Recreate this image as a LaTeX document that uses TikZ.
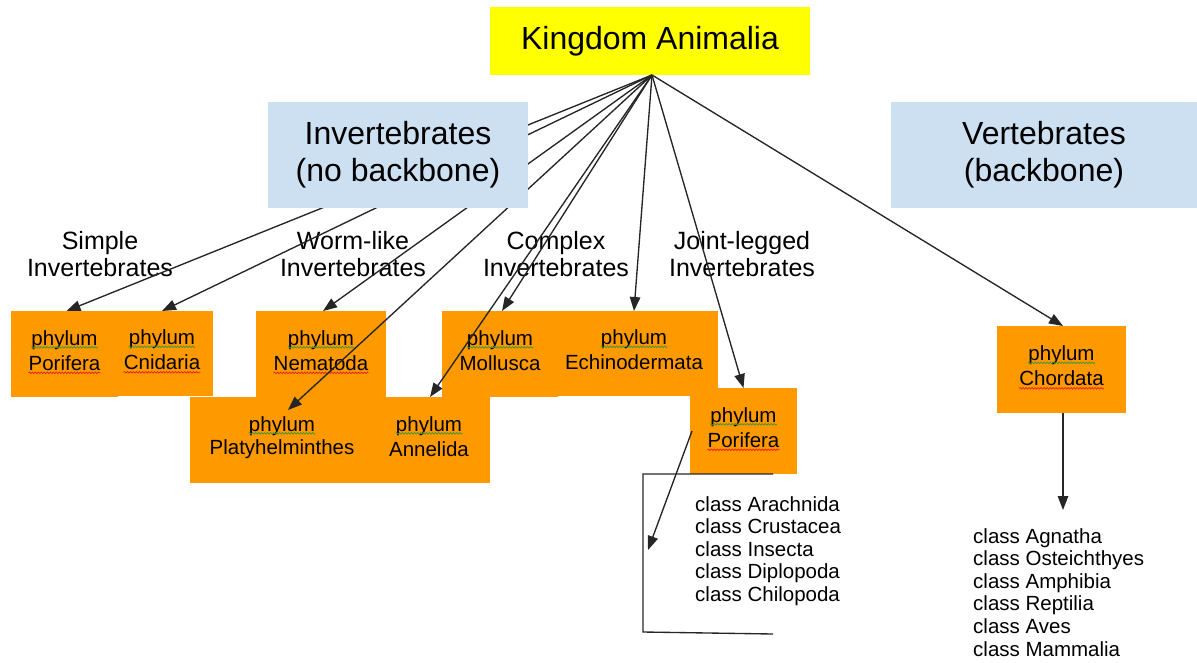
\documentclass[tikz,border=0pt]{standalone}
\usepackage{fontspec}
\setmainfont{Liberation Sans}
\usetikzlibrary{arrows.meta,decorations.pathmorphing}
\definecolor{orng}{RGB}{255,153,0}
\definecolor{yel}{RGB}{255,255,0}
\definecolor{lblue}{RGB}{205,224,242}
\definecolor{sgreen}{RGB}{60,150,60}
\definecolor{sred}{RGB}{235,30,30}
\newcommand\phybox[7]{%
  \node[obox, minimum width=#4pt, minimum height=#5pt] (#1) at (#2,#3) {};
  \node[ptext] (#1a) at ([yshift=14pt]#1.center) {phylum};
  \node[ptext] (#1b) at ([yshift=-9pt]#1.center) {#6};
  \draw[gwave] ([yshift=-2pt]#1a.base west) -- ([yshift=-2pt]#1a.base east);
  \draw[#7] ([yshift=-2.5pt]#1b.base west) -- ([yshift=-2.5pt]#1b.base east);
}
\begin{document}
\begin{tikzpicture}[x=1pt,y=-1pt,
  obox/.style={fill=orng, draw=none, inner sep=0pt, outer sep=0pt},
  bbox/.style={fill=lblue, inner sep=0pt, outer sep=0pt, align=center, font=\fontsize{32}{37}\selectfont},
  ptext/.style={inner sep=0pt, font=\fontsize{20.5}{24}\selectfont},
  ctext/.style={inner sep=0pt, align=left, anchor=north west, font=\fontsize{20.5}{22.6}\selectfont},
  lbl/.style={align=center, inner sep=0pt, font=\fontsize{25}{27}\selectfont},
  arr/.style={draw=black!85, line width=1.35pt, -{Triangle[length=14pt,width=10.5pt]}},
  thinline/.style={draw=black!85, line width=1.35pt},
  gwave/.style={draw=sgreen, line width=0.7pt, decorate, decoration={snake,amplitude=0.8pt,segment length=3pt}},
  rwave/.style={draw=sred, line width=0.7pt, decorate, decoration={snake,amplitude=0.8pt,segment length=3pt}},
  nowave/.style={draw=none}
]
\useasboundingbox (0,0) rectangle (1197,662);

% phylum boxes
\phybox{cni}{162}{353.5}{102}{85}{Cnidaria}{rwave}
\phybox{porL}{64.5}{354}{107}{86}{Porifera}{rwave}
\phybox{nem}{321}{354}{130}{86}{Nematoda}{rwave}
\phybox{platy}{282}{440}{184}{86}{Platyhelminthes}{nowave}
\phybox{annel}{429}{440}{122}{86}{Annelida}{nowave}
\phybox{mol}{500}{354}{116}{86}{Mollusca}{nowave}
\phybox{echi}{634}{353.5}{168}{85}{Echinodermata}{nowave}
\phybox{porR}{743.5}{431}{107}{86}{Porifera}{rwave}
\phybox{chord}{1061.5}{369.5}{129}{87}{Chordata}{rwave}

% group labels
\node[lbl] (lsimple) at (100,254) {Simple\\Invertebrates};
\node[lbl] (lworm) at (353,254) {Worm-like\\Invertebrates};
\node[lbl] (lcomplex) at (556,254) {Complex\\Invertebrates};
\node[lbl] (ljoint) at (742,254) {Joint-legged\\Invertebrates};

% class lists
\node[ctext] (clsA) at (695,496) {class Arachnida\\class Crustacea\\class Insecta\\class Diplopoda\\class Chilopoda};
\node[ctext] (clsV) at (973,528) {class Agnatha\\class Osteichthyes\\class Amphibia\\class Reptilia\\class Aves\\class Mammalia};

% kingdom node
\node[fill=yel, inner sep=0pt, outer sep=0pt, minimum width=320pt, minimum height=68pt, font=\fontsize{32}{37}\selectfont] (kingdom) at (650,41) {Kingdom Animalia};
\coordinate (kb) at ([xshift=2pt]kingdom.south);

% arrows from kingdom
\draw[arr] (kb) -- ([xshift=2pt]porL.north);
\draw[arr] (kb) -- (cni.north);
\draw[arr] (kb) -- ([xshift=2pt]nem.north);
\draw[arr] (kb) -- ([xshift=6pt,yshift=-13pt]platy.north);
\draw[arr] (kb) -- ([xshift=1pt]annel.north);
\draw[arr] (kb) -- ([xshift=2pt]mol.north);
\draw[arr] (kb) -- (echi.north);
\draw[arr] (kb) -- (porR.north);
\draw[arr] (kb) -- ([xshift=1.5pt]chord.north);

% blue boxes (cover the arrows)
\node[bbox, minimum width=260pt, minimum height=106pt] (inv) at (398,155) {Invertebrates\\(no backbone)};
\node[bbox, minimum width=306pt, minimum height=106pt] (vert) at (1044,155) {Vertebrates\\(backbone)};

% bracket and arrow to arthropod classes
\draw[thinline] (773,474) -- (643,474) -- (643,632) -- (773,634);
\coordinate (arthend) at (648,550);
\draw[arr] ([xshift=2pt]porR.west) -- (arthend);

% chordata arrow
\coordinate (chordend) at (1063,510);
\draw[arr] ([xshift=1.5pt]chord.south) -- (chordend);
\end{tikzpicture}
\end{document}
